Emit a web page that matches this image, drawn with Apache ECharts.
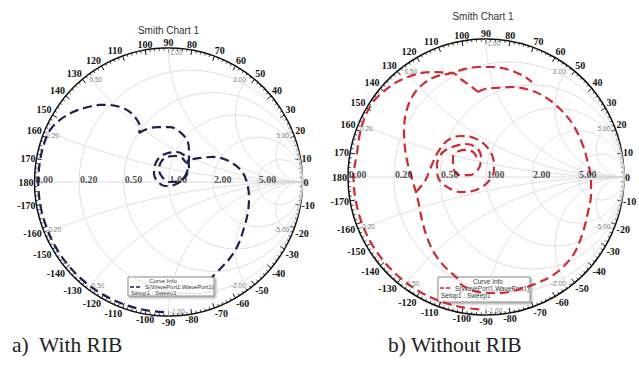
<!DOCTYPE html>
<html>
<head>
<meta charset="utf-8">
<script src="https://cdn.jsdelivr.net/npm/echarts@6/dist/echarts.min.js"></script>
<style>
html,body{margin:0;padding:0;background:#fff;}
#chart{width:639px;height:376px;}
</style>
</head>
<body>
<div id="chart"></div>
<script>
// Smith chart grid: constant resistance circles and constant reactance arcs
const resistanceCircles = [0.2, 0.5, 1, 2, 5];
const reactanceArcs = [0.2, 0.5, 1, 2, 5, -0.2, -0.5, -1, -2, -5];
const resistanceLabelValues = [0, 0.2, 0.5, 1, 2, 5];
const resistanceLabels = ['0.00', '0.20', '0.50', '1.00', '2.00', '5.00'];
const reactanceLabelValues = [0.2, 0.5, 1, 2, 5, -0.2, -0.5, -1, -2, -5];
const angleStep = 10;

// S(WavePort1,WavePort1) sweeps as reflection coefficient [Re, Im]
// a) with RIB: rim segment and upper arc up to the cusp
const ribSweepA = [
  [-0.034,-0.971],[-0.169,-0.957],[-0.332,-0.913],[-0.486,-0.842],[-0.625,-0.745],
  [-0.745,-0.625],[-0.842,-0.486],[-0.913,-0.332],[-0.957,-0.169],[-0.972,0.000],
  [-0.957,0.169],[-0.924,0.300],[-0.884,0.388],[-0.810,0.463],[-0.713,0.522],
  [-0.601,0.560],[-0.511,0.575],[-0.459,0.575],[-0.362,0.560],[-0.287,0.522],
  [-0.235,0.463],[-0.213,0.410],[-0.220,0.366]
];
// a) with RIB: from the cusp through the centre loops and the right loop
const ribSweepB = [
  [-0.220,0.366],[-0.160,0.396],[-0.086,0.410],[0.011,0.410],[0.086,0.373],
  [0.138,0.313],[0.153,0.239],[0.153,0.164],[0.146,0.127],[0.138,0.075],
  [0.101,0.015],[0.041,-0.022],[-0.026,-0.030],[-0.078,0.000],[-0.108,0.060],
  [-0.101,0.127],[-0.063,0.187],[-0.004,0.216],[0.063,0.224],[0.116,0.201],
  [0.146,0.157],[0.153,0.104],[0.131,0.045],[0.078,0.007],[0.011,0.000],
  [-0.041,0.030],[-0.071,0.090],[-0.056,0.149],[-0.011,0.187],[0.049,0.194],
  [0.101,0.179],[0.138,0.142],[0.183,0.170],[0.235,0.179],[0.325,0.187],
  [0.414,0.172],[0.496,0.127],[0.556,0.067],[0.586,-0.007],[0.601,-0.112],
  [0.593,-0.224],[0.563,-0.343],[0.519,-0.470],[0.459,-0.567],[0.392,-0.642],
  [0.325,-0.709]
];
// b) without RIB: rim segment and outer arc down to the cusp
const noRibSweepA = [
  [-0.050,-0.959],[-0.167,-0.945],[-0.328,-0.902],[-0.480,-0.831],[-0.617,-0.735],
  [-0.735,-0.617],[-0.831,-0.480],[-0.902,-0.328],[-0.945,-0.167],[-0.960,0.000],
  [-0.935,0.174],[-0.913,0.319],[-0.877,0.435],[-0.819,0.543],[-0.746,0.616],
  [-0.659,0.681],[-0.565,0.725],[-0.464,0.754],[-0.370,0.761],[-0.275,0.754],
  [-0.246,0.754],[-0.174,0.703],[-0.101,0.652],[-0.058,0.616]
];
// b) without RIB: right arc, inner arc and the upper arc
const noRibSweepB = [
  [-0.058,0.616],[-0.007,0.638],[0.065,0.645],[0.188,0.652],[0.319,0.630],
  [0.428,0.580],[0.529,0.500],[0.623,0.391],[0.696,0.246],[0.739,0.101],
  [0.761,-0.022],[0.761,-0.130],[0.739,-0.254],[0.703,-0.399],[0.645,-0.543],
  [0.572,-0.638],[0.478,-0.717],[0.355,-0.775],[0.246,-0.812],[0.101,-0.841],
  [-0.058,-0.833],[-0.174,-0.783],[-0.203,-0.739],[-0.283,-0.667],[-0.362,-0.572],
  [-0.420,-0.457],[-0.464,-0.312],[-0.493,-0.167],[-0.529,-0.036],[-0.565,0.087],
  [-0.587,0.210],[-0.594,0.341],[-0.580,0.464],[-0.536,0.580],[-0.464,0.667],
  [-0.370,0.725],[-0.246,0.754],[-0.152,0.783],[-0.058,0.797],[0.029,0.797],
  [0.116,0.790],[0.210,0.761],[0.283,0.725],[0.333,0.688]
];
// b) without RIB: loops around the centre
const noRibSweepC = [
  [-0.507,-0.109],[-0.442,-0.029],[-0.399,0.072],[-0.348,0.181],[-0.283,0.261],
  [-0.188,0.297],[-0.087,0.283],[0.000,0.225],[0.051,0.138],[0.058,0.051],
  [0.014,-0.036],[-0.072,-0.094],[-0.181,-0.109],[-0.283,-0.072],[-0.348,0.000],
  [-0.355,0.087],[-0.319,0.174],[-0.246,0.217],[-0.145,0.239],[-0.065,0.210],
  [-0.036,0.145],[-0.051,0.065],[-0.116,0.014],[-0.188,0.014],[-0.239,0.072],
  [-0.239,0.145],[-0.196,0.188],[-0.130,0.196],[-0.080,0.167],[-0.065,0.116]
];

const panels = [
  { cx: 168.5, cy: 182, r: 134, color: '#1b2050', sweeps: [ribSweepA, ribSweepB] },
  { cx: 486, cy: 177, r: 138, color: '#d02a2e', sweeps: [noRibSweepA, noRibSweepB, noRibSweepC] }
];

function zToGamma(r, x) {
  const d = (r + 1) * (r + 1) + x * x;
  return [(r * r - 1 + x * x) / d, (2 * x) / d];
}
function resistanceCircle(r) {
  const pts = [];
  const c = r / (1 + r), rad = 1 / (1 + r);
  for (let i = 0; i <= 200; i++) {
    const a = (i / 200) * Math.PI * 2;
    pts.push([c + rad * Math.cos(a), rad * Math.sin(a)]);
  }
  return pts;
}
function reactanceArc(x) {
  const pts = [];
  for (let i = 0; i <= 200; i++) {
    const s = (i / 200) * 0.9995;
    pts.push(zToGamma(s / (1 - s), x));
  }
  pts.push([1, 0]);
  return pts;
}
function line(k, data, lineStyle, smooth, z) {
  return {
    type: 'line', xAxisIndex: k, yAxisIndex: k, data: data,
    symbol: 'none', showSymbol: false, smooth: smooth || false,
    lineStyle: lineStyle, silent: true, z: z || 1
  };
}

const series = [];
panels.forEach((p, k) => {
  const gridStyle = { color: '#d6d6d6', width: 0.8 };
  resistanceCircles.forEach(r => series.push(line(k, resistanceCircle(r), gridStyle)));
  reactanceArcs.forEach(x => series.push(line(k, reactanceArc(x), gridStyle)));
  series.push(line(k, [[-1, 0], [1, 0]], gridStyle));

  // resistance values along the real axis
  series.push({
    type: 'scatter', xAxisIndex: k, yAxisIndex: k, symbolSize: 0.1, silent: true, z: 5,
    itemStyle: { color: 'transparent' },
    data: resistanceLabelValues.map((r, i) => ({ name: resistanceLabels[i], value: [(r - 1) / (r + 1), 0] })),
    label: {
      show: true, formatter: '{b}', position: [1, -2], align: 'left', verticalAlign: 'middle',
      fontFamily: 'Liberation Serif', fontWeight: 'bold', fontSize: 10, color: '#222'
    }
  });
  // reactance values at the rim
  series.push({
    type: 'scatter', xAxisIndex: k, yAxisIndex: k, symbolSize: 0.1, silent: true, z: 5,
    itemStyle: { color: 'transparent' },
    data: reactanceLabelValues.map(x => {
      const g = zToGamma(0, x);
      const right = g[0] > 0.3;
      return {
        name: x.toFixed(2), value: g,
        label: { align: right ? 'right' : 'left', position: [right ? -3 : 1.5, x > 0 ? 5 : -4] }
      };
    }),
    label: {
      show: true, formatter: '{b}', verticalAlign: 'middle',
      fontFamily: 'Liberation Sans', fontSize: 6.5, color: '#555'
    }
  });
  // measured sweep
  p.sweeps.forEach(s => series.push(line(k, s, { color: p.color, width: 2.2, type: [9, 5] }, 0.35, 3)));
});

function angleLabel(v) {
  if (v >= 360) return '';
  return String(v > 180 ? v - 360 : v);
}

const angleAxes = panels.map((p, k) => ({
  polarIndex: k, type: 'value', min: 0, max: 360, interval: angleStep,
  startAngle: 0, clockwise: false,
  axisLine: { show: true, lineStyle: { color: '#111', width: 1.5 } },
  axisTick: { show: true, inside: true, length: 5, lineStyle: { color: '#111', width: 1 } },
  minorTick: { show: true, splitNumber: 5, length: 2.5, lineStyle: { color: '#222', width: 0.8 } },
  splitLine: { show: false },
  axisLabel: {
    show: true, margin: 1, formatter: angleLabel,
    fontFamily: 'Liberation Serif', fontWeight: 'bold', fontSize: 10, color: '#111'
  }
}));

function legendBox(x, y, w, h, color, fs, lines) {
  return {
    type: 'group', z: 50,
    children: [
      { type: 'rect', shape: { x: x, y: y, width: w, height: h },
        style: { fill: '#fff', stroke: '#8a8a8a', lineWidth: 1,
          shadowBlur: 2, shadowOffsetX: 1.5, shadowOffsetY: 1.5, shadowColor: 'rgba(0,0,0,0.35)' } },
      { type: 'text', x: lines.titleX, y: lines.y1,
        style: { text: 'Curve Info', align: 'center', verticalAlign: 'middle',
          font: fs + 'px "Liberation Sans"', fill: '#333' } },
      { type: 'line', shape: { x1: x + 2, y1: lines.y2, x2: x + 14, y2: lines.y2 },
        style: { stroke: color, lineWidth: 1.3, lineDash: [4, 2] } },
      { type: 'text', x: x + 17, y: lines.y2,
        style: { text: 'S(WavePort1,WavePort1)', align: 'left', verticalAlign: 'middle',
          font: fs + 'px "Liberation Sans"', fill: '#333' } },
      { type: 'text', x: x + 3, y: lines.y3,
        style: { text: 'Setup1 : Sweep1', align: 'left', verticalAlign: 'middle',
          font: fs + 'px "Liberation Sans"', fill: '#333' } }
    ]
  };
}

const chart = echarts.init(document.getElementById('chart'), null, { renderer: 'svg' });
chart.setOption({
  animation: false,
  backgroundColor: '#fff',
  polar: panels.map(p => ({ center: [p.cx, p.cy], radius: p.r })),
  angleAxis: angleAxes,
  radiusAxis: panels.map((p, k) => ({ polarIndex: k, type: 'value', min: 0, max: 1, show: false })),
  grid: panels.map(p => ({ left: p.cx - p.r, top: p.cy - p.r, width: 2 * p.r, height: 2 * p.r })),
  xAxis: panels.map((p, k) => ({ gridIndex: k, type: 'value', min: -1, max: 1, show: false })),
  yAxis: panels.map((p, k) => ({ gridIndex: k, type: 'value', min: -1, max: 1, show: false })),
  series: series,
  graphic: [
    { type: 'text', x: 168.5, y: 30, z: 50,
      style: { text: 'Smith Chart 1', align: 'center', verticalAlign: 'middle', font: '10px "Liberation Sans"', fill: '#333' } },
    { type: 'text', x: 483, y: 16, z: 50,
      style: { text: 'Smith Chart 1', align: 'center', verticalAlign: 'middle', font: '10px "Liberation Sans"', fill: '#333' } },
    legendBox(128, 277, 86, 19, panels[0].color, 6, { titleX: 163, y1: 281, y2: 287, y3: 292.5 }),
    legendBox(438, 277, 92, 25, panels[1].color, 6.5, { titleX: 488, y1: 281.5, y2: 288, y3: 295 }),
    { type: 'text', x: 12, y: 345, z: 50,
      style: { text: 'a)\u00a0 With RIB', align: 'left', verticalAlign: 'middle', font: '21.5px "Liberation Serif"', fill: '#222' } },
    { type: 'text', x: 388, y: 345, z: 50,
      style: { text: 'b) Without RIB', align: 'left', verticalAlign: 'middle', font: '21.5px "Liberation Serif"', fill: '#222' } }
  ]
});
</script>
</body>
</html>
